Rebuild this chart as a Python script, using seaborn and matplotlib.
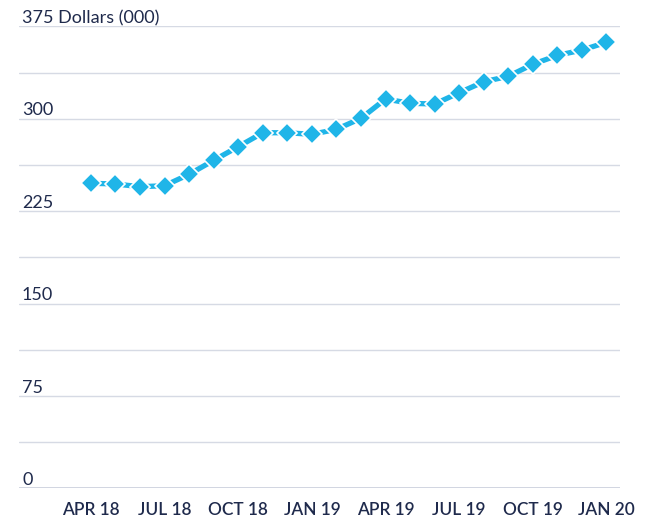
import numpy as np
import pandas as pd
import matplotlib
matplotlib.use('Agg')
import matplotlib.pyplot as plt
import matplotlib.transforms as mtransforms
import seaborn as sns

# monthly values, Apr 2018 - Jan 2020, thousands of dollars
months = ['APR 18', 'MAY 18', 'JUN 18', 'JUL 18', 'AUG 18', 'SEP 18', 'OCT 18', 'NOV 18',
          'DEC 18', 'JAN 19', 'FEB 19', 'MAR 19', 'APR 19', 'MAY 19', 'JUN 19', 'JUL 19',
          'AUG 19', 'SEP 19', 'OCT 19', 'NOV 19', 'DEC 19', 'JAN 20']
values = [247.6, 247.0, 244.8, 245.6, 254.9, 266.2, 277.3, 288.6, 288.6, 287.3, 291.4,
          300.3, 316.0, 312.5, 311.9, 321.1, 330.0, 334.4, 344.2, 351.4, 355.7, 362.0]
tick_months = ['APR 18', 'JUL 18', 'OCT 18', 'JAN 19', 'APR 19', 'JUL 19', 'OCT 19', 'JAN 20']
y_labels = ['0', '75', '150', '225', '300', '375 Dollars (000)']
y_label_vals = [0, 75, 150, 225, 300, 375]

df = pd.DataFrame({'month': months, 'value': values})
df['idx'] = range(len(df))

sns.set_style('white')
plt.rcParams['font.family'] = ['Lato', 'DejaVu Sans']

navy = '#1f2a4c'
blue = '#1fb5e8'

fig = plt.figure(figsize=(6.62, 5.2), dpi=100)
ax = fig.add_axes([19 / 662, 1 - 488.3 / 520, 601 / 662, 462 / 520])

# gridlines every 37.5
for g in np.arange(0, 375.1, 37.5):
    ax.axhline(g, color='#c9cedb' if g == 0 else '#d6dae4', lw=1.2 if g == 0 else 1.0, zorder=0)

sns.lineplot(data=df, x='idx', y='value', ax=ax, color=blue, lw=3.8,
             marker='D', markersize=10, markeredgecolor='white', markeredgewidth=1.2)

ax.set_ylim(0, 375)
ax.set_xlim(-2.93, 21.55)
for s in ax.spines.values():
    s.set_visible(False)

ax.set_yticks([])
ax.set_xticks([months.index(m) for m in tick_months])
ax.set_xticklabels(tick_months, fontsize=12.4, color=navy, fontweight='semibold')
ax.tick_params(axis='x', length=0, pad=10)
ax.set_xlabel('')
ax.set_ylabel('')

trans = mtransforms.blended_transform_factory(ax.transAxes, ax.transData)
for v, lab in zip(y_label_vals, y_labels):
    ax.text(0.005, v + 0.2, lab, transform=trans, ha='left', va='bottom',
            fontsize=13, color=navy)

fig.savefig('out.png', dpi=100)
